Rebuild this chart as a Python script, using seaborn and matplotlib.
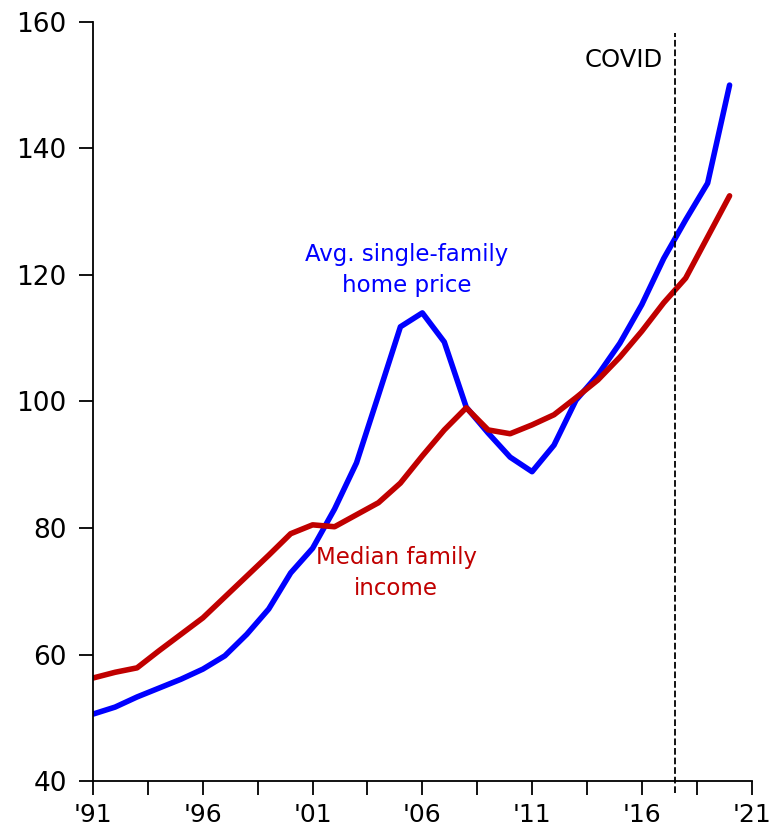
"""Home price vs. family income index chart."""
import numpy as np
import pandas as pd
import matplotlib
matplotlib.use("Agg")
import matplotlib.pyplot as plt
from matplotlib.ticker import MultipleLocator, FixedLocator
import seaborn as sns

years = list(range(1991, 2021))
home_price = [50.6, 51.7, 53.3, 54.7, 56.1, 57.7, 59.8, 63.2, 67.2, 72.9,
              76.8, 83.0, 90.3, 101.0, 111.8, 114.0, 109.4, 99.1, 95.0, 91.2,
              88.9, 93.1, 100.2, 104.2, 109.2, 115.3, 122.6, 128.7, 134.5, 150.0]
family_income = [56.3, 57.2, 57.9, 60.6, 63.2, 65.8, 69.1, 72.4, 75.7, 79.1,
                 80.5, 80.2, 82.1, 84.0, 87.1, 91.4, 95.5, 99.0, 95.5, 94.9,
                 96.3, 97.9, 100.6, 103.4, 107.0, 111.1, 115.6, 119.5, 126.0, 132.5]
series_names = ["Avg. single-family\nhome price", "Median family\nincome"]
series_colors = ["#0000FF", "#C00000"]
covid_x = 2017.5
x_tick_years = [1991, 1996, 2001, 2006, 2011, 2016, 2021]
x_tick_labels = ["'91", "'96", "'01", "'06", "'11", "'16", "'21"]
x_minor_years = [1993.5, 1998.5, 2003.5, 2008.5, 2013.5, 2018.5]

df = pd.DataFrame({
    "year": years * 2,
    "value": home_price + family_income,
    "series": [series_names[0]] * len(years) + [series_names[1]] * len(years),
})

sns.set_style("ticks")
plt.rcParams["font.family"] = ["DejaVu Sans"]

fig = plt.figure(figsize=(7.7, 8.39), dpi=100)
ax = fig.add_axes([0.121, 0.069, 0.855, 0.905])

sns.lineplot(data=df, x="year", y="value", hue="series",
             palette=dict(zip(series_names, series_colors)),
             linewidth=4, legend=False, ax=ax)

ax.set_xlim(1991, 2021)
ax.set_ylim(40, 160)
ax.xaxis.set_major_locator(FixedLocator(x_tick_years))
ax.set_xticklabels(x_tick_labels)
ax.xaxis.set_minor_locator(FixedLocator(x_minor_years))
ax.yaxis.set_major_locator(MultipleLocator(20))
ax.tick_params(axis="both", which="both", direction="out", length=10,
               width=1.3, labelsize=19, colors="black")
ax.tick_params(axis="x", pad=6, labelsize=18)
ax.tick_params(axis="y", pad=9)
ax.set_xlabel("")
ax.set_ylabel("")
for s in ["top", "right"]:
    ax.spines[s].set_visible(False)
for s in ["left", "bottom"]:
    ax.spines[s].set_linewidth(1.3)
    ax.spines[s].set_color("black")

# COVID marker
ax.axvline(covid_x, ymin=-0.016, ymax=0.985, color="black", linestyle="--",
           linewidth=1.3, clip_on=False)
ax.text(covid_x - 0.55, 154.0, "COVID", ha="right", va="center", fontsize=17.5,
        color="black")

# series labels
ax.text(2005.3, 120.8, series_names[0], ha="center", va="center", fontsize=16.5,
        color=series_colors[0], linespacing=1.45)
ax.text(2004.8, 72.9, series_names[1], ha="center", va="center", fontsize=16.5,
        color=series_colors[1], linespacing=1.4)

fig.savefig("out.png", dpi=100)
